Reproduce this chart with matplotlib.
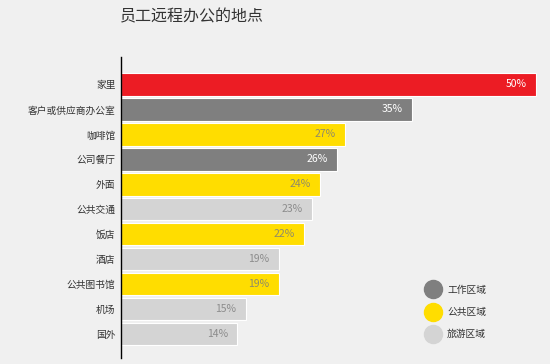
import matplotlib
matplotlib.use("Agg")
import matplotlib.pyplot as plt
from matplotlib.lines import Line2D

plt.rcParams['font.family'] = ['Noto Sans CJK SC', 'DejaVu Sans']

categories = ["家里", "客户或供应商办公室", "咖啡馆", "公司餐厅", "外面", "公共交通",
              "饭店", "酒店", "公共图书馆", "机场", "国外"]
values = [50, 35, 27, 26, 24, 23, 22, 19, 19, 15, 14]
groups = ["home", "work", "public", "work", "public", "travel",
          "public", "travel", "public", "travel", "travel"]
legend_labels = ["工作区域", "公共区域", "旅游区域"]
title = "员工远程办公的地点"

colors = {"home": "#ec1c24", "work": "#7f7f7f", "public": "#ffdd00", "travel": "#d4d4d4"}
label_colors = {"home": "white", "work": "white", "public": "#8f8a6a", "travel": "#8c8c8c"}

bg = "#f0f0f0"
fig = plt.figure(figsize=(5.5, 3.64), dpi=100, facecolor=bg)
W, H = 550, 364
ax = fig.add_axes([121 / W, 1 - 358 / H, (W - 121) / W, (358 - 57) / H])
ax.set_facecolor(bg)

ypos = list(range(len(categories)))
bar_colors = [colors[g] for g in groups]
ax.barh(ypos, values, height=0.9, color=bar_colors, edgecolor="white", linewidth=0.8)

ax.set_xlim(0, (W - 121) / 8.3)
ax.set_ylim(10.96, -1.10)

for y, v, g in zip(ypos, values, groups):
    ax.annotate(f"{v}%", xy=(v, y), xytext=(-6.5, 0), textcoords="offset points",
                ha="right", va="center", fontsize=7.5, color=label_colors[g])

ax.set_yticks(ypos)
ax.set_yticklabels(categories, fontsize=7, color="#333333")
ax.tick_params(axis="y", length=0, pad=4)
ax.set_xticks([])
for s in ["top", "right", "bottom"]:
    ax.spines[s].set_visible(False)
ax.spines["left"].set_color("black")
ax.spines["left"].set_linewidth(1.0)

fig.text(120 / W, 1 - 17 / H, title, fontsize=11.5, color="#333333", ha="left", va="center")

handles = [Line2D([0], [0], marker="o", linestyle="none", markersize=13,
                  markerfacecolor=c, markeredgecolor=c)
           for c in [colors["work"], colors["public"], colors["travel"]]]
fig.legend(handles, legend_labels, loc="upper left",
           bbox_to_anchor=(415 / W, 1 - 276 / H), frameon=False,
           fontsize=7, labelspacing=1.25, handletextpad=0.4, labelcolor="#333333")

fig.savefig("out.png", dpi=100, facecolor=bg)
